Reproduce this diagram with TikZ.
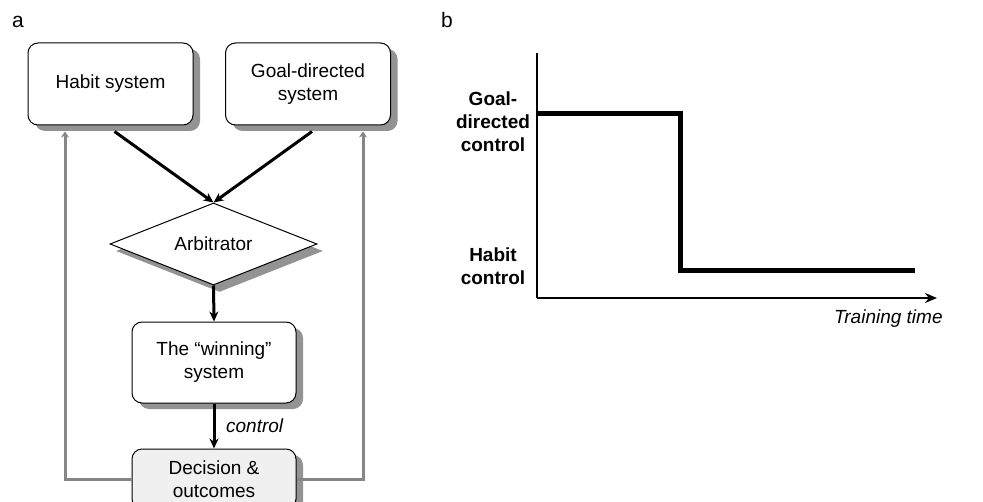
\documentclass[tikz,border=0pt]{standalone}
\usepackage{fontspec}
\setmainfont{Liberation Sans}
\usetikzlibrary{arrows.meta,shapes.geometric,shadows}

\tikzset{
  sysbox/.style={draw, rounded corners=5pt, fill=white, line width=0.5pt,
    minimum width=82.5pt, minimum height=41pt, align=center,
    drop shadow={shadow xshift=3.5pt, shadow yshift=-3pt, fill=gray!85, opacity=1}},
  arbbox/.style={draw, diamond, aspect=2.5, fill=white, line width=0.5pt, inner sep=0pt,
    minimum width=103.5pt, minimum height=41pt,
    drop shadow={shadow xshift=3pt, shadow yshift=-3.5pt, fill=gray!85, opacity=1}},
  blk/.style={line width=1.5pt, -{Stealth[length=5pt,width=4.5pt]}},
  fb/.style={line width=1.5pt, draw=gray!95, -{Stealth[length=3pt,width=4pt]}},
  lbl/.style={font=\fontsize{9.5}{11.5}\selectfont}
}

\begin{document}
\begin{tikzpicture}[x=0.5pt,y=-0.5pt,lbl]
\useasboundingbox (0,0) rectangle (983,502);
\clip (0,0) rectangle (983,502);

% panel a
\node[font=\fontsize{10.5}{12}\selectfont] (la) at (18,22) {a};
\node[sysbox] (habit) at (110.5,84) {Habit system};
\node[sysbox] (goal) at (308,84) {Goal-directed\\system};
\node[arbbox] (arb) at (213.5,244) {Arbitrator};
\node[sysbox, minimum width=82pt, minimum height=40.5pt] (win) at (214,362.5) {The “winning”\\system};
\node[sysbox, minimum width=82pt, minimum height=30pt, fill=gray!12] (dec) at (214,479) {Decision \&\\outcomes};

\draw[blk] ([xshift=2pt,yshift=-3pt]habit.south) -- (arb.north);
\draw[blk] ([xshift=2pt,yshift=-3pt]goal.south) -- (arb.north);
\draw[blk] (arb.south) -- (win.north);
\draw[blk] (win.south) -- node[right=2pt] {\itshape control} (dec.north);

\draw[fb] (dec.west) -| ([xshift=-22.75pt,yshift=-3pt]habit.south);
\draw[fb] (dec.east) -| ([xshift=27.5pt,yshift=-3pt]goal.south);

% panel b
\node[font=\fontsize{10.5}{12}\selectfont] (lb) at (447,20) {b};
\coordinate (orig) at (537,298);
\coordinate (ytop) at (537,53);
\coordinate (xend) at (937,298);
\draw[line width=1pt] (ytop) -- (orig);
\draw[line width=1pt, -{Stealth[length=6pt,width=5pt]}] (orig) -- (xend);
\draw[line width=2.5pt] (537,113.5) -- (680,113.5) -- (680,270) -- (915,270);

\node[align=center, font=\fontsize{9.5}{11.5}\selectfont\bfseries] (goallbl) at (493,122) {Goal-\\directed\\control};
\node[align=center, font=\fontsize{9.5}{11.5}\selectfont\bfseries] (habitlbl) at (493,266) {Habit\\control};
\node[anchor=east, inner sep=0pt] (xlbl) at (943,319) {\itshape Training time};
\end{tikzpicture}
\end{document}
